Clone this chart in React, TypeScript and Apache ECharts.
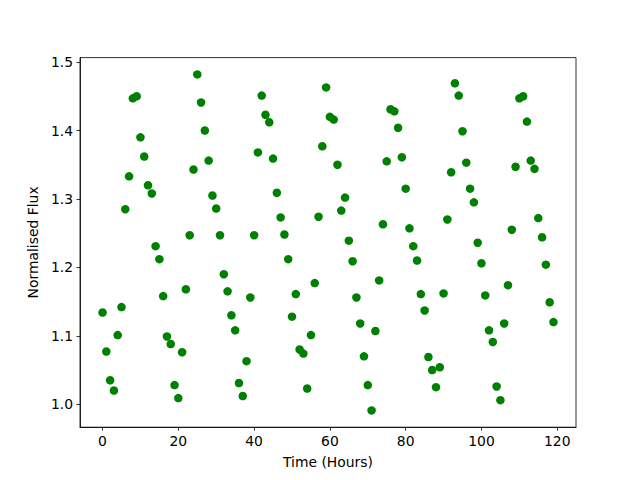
import React, { useEffect, useRef } from "react";
import * as echarts from "echarts";

const hours: number[] = Array.from({ length: 120 }, (_, i) => i);
const flux: number[] = [
  1.134, 1.077, 1.035, 1.020, 1.101, 1.142, 1.285, 1.333, 1.447, 1.450,
  1.390, 1.362, 1.320, 1.308, 1.231, 1.212, 1.158, 1.099, 1.088, 1.028,
  1.009, 1.076, 1.168, 1.247, 1.343, 1.482, 1.441, 1.400, 1.356, 1.305,
  1.286, 1.247, 1.190, 1.165, 1.130, 1.108, 1.031, 1.012, 1.063, 1.156,
  1.247, 1.368, 1.451, 1.423, 1.412, 1.359, 1.309, 1.273, 1.248, 1.212,
  1.128, 1.161, 1.080, 1.074, 1.023, 1.101, 1.177, 1.274, 1.377, 1.463,
  1.420, 1.416, 1.350, 1.283, 1.302, 1.239, 1.209, 1.156, 1.118, 1.070,
  1.028, 0.991, 1.107, 1.181, 1.263, 1.355, 1.431, 1.428, 1.404, 1.361,
  1.315, 1.257, 1.231, 1.210, 1.161, 1.137, 1.069, 1.050, 1.025, 1.054,
  1.162, 1.270, 1.339, 1.469, 1.451, 1.399, 1.353, 1.315, 1.295, 1.236,
  1.206, 1.159, 1.108, 1.091, 1.026, 1.006, 1.118, 1.174, 1.255, 1.347,
  1.447, 1.450, 1.413, 1.356, 1.344, 1.272, 1.244, 1.204, 1.149, 1.120,
];
const xTicks: number[] = [0, 20, 40, 60, 80, 100, 120];
const yTicks: number[] = [1.0, 1.1, 1.2, 1.3, 1.4, 1.5];

export default function App() {
  const ref = useRef<HTMLDivElement>(null);
  useEffect(() => {
    if (!ref.current) return;
    const chart = echarts.init(ref.current, null, { renderer: "svg" });
    const xmin = Math.min(...hours), xmax = Math.max(...hours);
    const ymin = Math.min(...flux), ymax = Math.max(...flux);
    const xm = (xmax - xmin) * 0.05, ym = (ymax - ymin) * 0.05;
    const font = "DejaVu Sans";
    const axisCommon = {
      axisLine: { show: true, onZero: false, lineStyle: { color: "#000", width: 0.8 } },
      axisTick: { show: true, inside: false, length: 3.5, lineStyle: { color: "#000", width: 0.8 } },
      splitLine: { show: false },
      nameTextStyle: { fontFamily: font, fontSize: 13.9, color: "#000" },
    };
    chart.setOption({
      animation: false,
      backgroundColor: "#fff",
      grid: {
        left: 80, right: 64, top: 57.6, bottom: 52.8,
        show: true, borderColor: "#000", borderWidth: 0.8, backgroundColor: "transparent",
      },
      xAxis: {
        type: "value",
        min: xmin - xm,
        max: xmax + xm,
        name: "Time (Hours)",
        nameLocation: "middle",
        nameGap: 28,
        ...axisCommon,
        axisTick: { ...axisCommon.axisTick, customValues: xTicks },
        axisLabel: {
          customValues: xTicks,
          margin: 7,
          fontFamily: font, fontSize: 13.9, color: "#000",
          formatter: (v: number) => String(Math.round(v)),
        },
      },
      yAxis: {
        type: "value",
        min: ymin - ym,
        max: ymax + ym,
        name: "Normalised Flux",
        nameLocation: "middle",
        nameGap: 38,
        ...axisCommon,
        axisTick: { ...axisCommon.axisTick, customValues: yTicks },
        axisLabel: {
          customValues: yTicks,
          margin: 7,
          fontFamily: font, fontSize: 13.9, color: "#000",
          formatter: (v: number) => v.toFixed(1),
        },
      },
      series: [
        {
          type: "scatter",
          data: hours.map((h, i) => [h, flux[i]]),
          symbol: "circle",
          symbolSize: 8.5,
          itemStyle: { color: "#008000", opacity: 1 },
        },
      ],
    });
    return () => chart.dispose();
  }, []);
  return (
    <div
      ref={ref}
      style={{ position: "fixed", left: 0, top: 0, width: 640, height: 480, background: "#fff" }}
    />
  );
}
